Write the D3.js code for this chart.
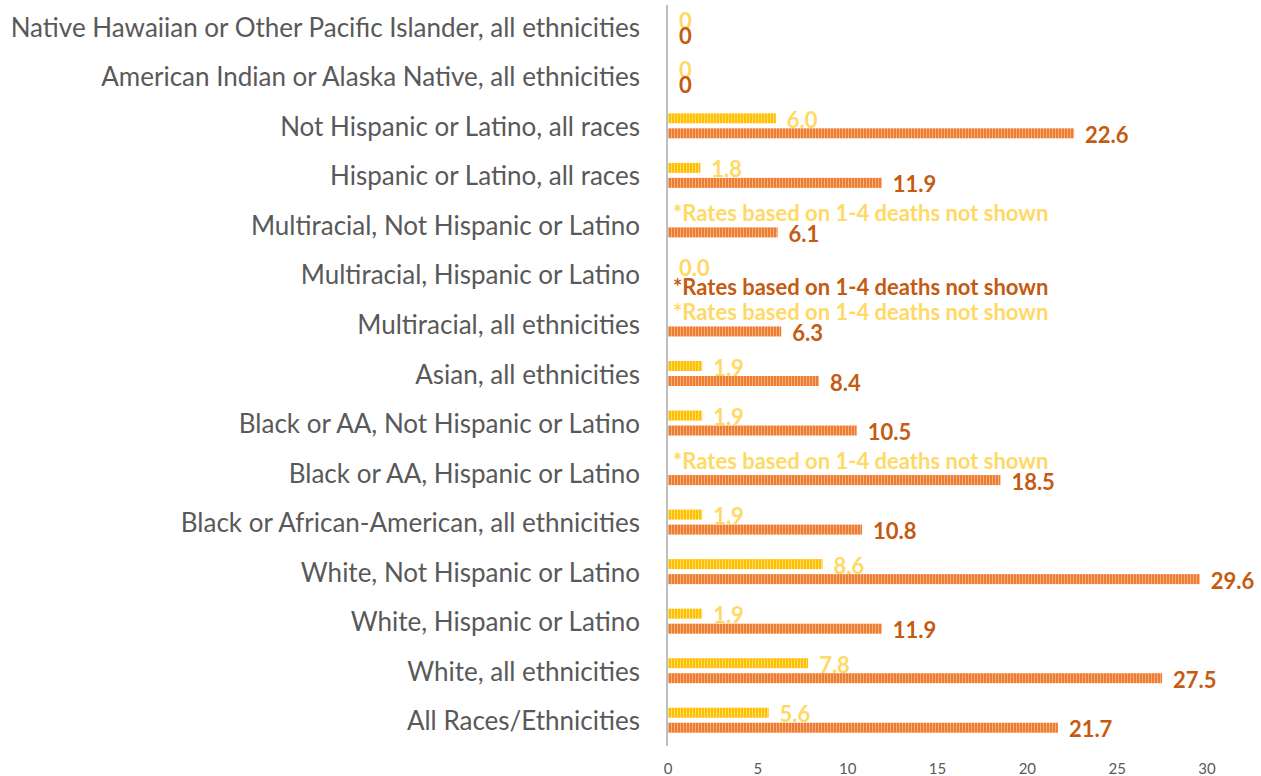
<!DOCTYPE html>
<html lang="en">
<head>
<meta charset="UTF-8">
<title>Rates by race and ethnicity</title>
<script src="https://d3js.org/d3.v7.min.js"></script>
<style>
  body { margin: 0; background: #fff; }
  text { font-family: Lato, 'Open Sans', sans-serif; }
</style>
</head>
<body>
<div id="chart"></div>
<script>
const NOTE = '*Rates based on 1-4 deaths not shown'

// categories, top to bottom
const categories = [
  'Native Hawaiian or Other Pacific Islander, all ethnicities',
  'American Indian or Alaska Native, all ethnicities',
  'Not Hispanic or Latino, all races',
  'Hispanic or Latino, all races',
  'Multiracial, Not Hispanic or Latino',
  'Multiracial, Hispanic or Latino',
  'Multiracial, all ethnicities',
  'Asian, all ethnicities',
  'Black or AA, Not Hispanic or Latino',
  'Black or AA, Hispanic or Latino',
  'Black or African-American, all ethnicities',
  'White, Not Hispanic or Latino',
  'White, Hispanic or Latino',
  'White, all ethnicities',
  'All Races/Ethnicities'
]
const yellowValues = [0, 0, 6.0, 1.8, null, 0.0, null, 1.9, 1.9, null, 1.9, 8.6, 1.9, 7.8, 5.6]
const yellowLabels = ['0', '0', '6.0', '1.8', NOTE, '0.0', NOTE, '1.9', '1.9', NOTE, '1.9', '8.6', '1.9', '7.8', '5.6']
const orangeValues = [0, 0, 22.6, 11.9, 6.1, null, 6.3, 8.4, 10.5, 18.5, 10.8, 29.6, 11.9, 27.5, 21.7]
const orangeLabels = ['0', '0', '22.6', '11.9', '6.1', NOTE, '6.3', '8.4', '10.5', '18.5', '10.8', '29.6', '11.9', '27.5', '21.7']
const xTicks = [0, 5, 10, 15, 20, 25, 30]

const series = [
  { key: 'yellow', values: yellowValues, labels: yellowLabels, base: '#FFC000', stripe: '#FFDB6E', text: '#FFD966', noteShift: -6 },
  { key: 'orange', values: orangeValues, labels: orangeLabels, base: '#ED7D31', stripe: '#F6AE7D', text: '#C55A11', noteShift: 4 }
]

const width = 1261, height = 776
const svg = d3.select('#chart')
  .append('svg')
  .attr('width', width)
  .attr('height', height)

const x = d3.scaleLinear().domain([0, 30]).range([668, 1207])
const y = d3.scaleBand().domain(categories).range([2, 745])
const inner = d3.scaleBand()
  .domain(series.map(s => s.key))
  .range([y.bandwidth() / 2 - 12.5, y.bandwidth() / 2 + 12.5])
  .paddingInner(1 / 3)

// striped fills
const defs = svg.append('defs')
series.forEach(s => {
  const p = defs.append('pattern')
    .attr('id', 'stripe-' + s.key)
    .attr('patternUnits', 'userSpaceOnUse')
    .attr('width', 3)
    .attr('height', 20)
  p.append('rect').attr('width', 3).attr('height', 20).attr('fill', s.base)
  p.append('rect').attr('x', 2).attr('width', 1).attr('height', 20).attr('fill', s.stripe)
})

// category labels
svg.append('g')
  .selectAll('text')
  .data(categories)
  .enter()
  .append('text')
  .attr('x', 640)
  .attr('y', d => y(d) + y.bandwidth() / 2)
  .attr('text-anchor', 'end')
  .attr('dominant-baseline', 'central')
  .attr('font-size', 26)
  .attr('fill', '#595959')
  .text(d => d)

series.forEach(s => {
  const rows = categories.map((c, i) => ({ cat: c, value: s.values[i], label: s.labels[i] }))
  const g = svg.append('g')

  g.selectAll('rect')
    .data(rows.filter(d => d.value))
    .enter()
    .append('rect')
    .attr('x', x(0))
    .attr('y', d => y(d.cat) + inner(s.key))
    .attr('width', d => x(d.value) - x(0))
    .attr('height', inner.bandwidth())
    .attr('fill', `url(#stripe-${s.key})`)

  // value labels; the footnote text sits a bit off the bar row
  g.selectAll('text')
    .data(rows)
    .enter()
    .append('text')
    .attr('x', d => d.label === NOTE ? x(0) + 5 : x(d.value || 0) + 11)
    .attr('y', d => y(d.cat) + inner(s.key) + inner.bandwidth() / 2 + 1 + (d.label === NOTE ? s.noteShift : 0))
    .attr('dominant-baseline', 'central')
    .attr('font-size', 22)
    .attr('font-weight', 'bold')
    .attr('fill', s.text)
    .text(d => d.label)
})

// vertical axis line
svg.append('line')
  .attr('x1', x(0) - 1).attr('x2', x(0) - 1)
  .attr('y1', 5).attr('y2', 746)
  .attr('stroke', '#BFBFBF')
  .attr('stroke-width', 2)

// x tick labels
svg.append('g')
  .selectAll('text')
  .data(xTicks)
  .enter()
  .append('text')
  .attr('x', d => x(d))
  .attr('y', 768)
  .attr('text-anchor', 'middle')
  .attr('dominant-baseline', 'central')
  .attr('font-size', 15)
  .attr('fill', '#595959')
  .text(d => d)
</script>
</body>
</html>
